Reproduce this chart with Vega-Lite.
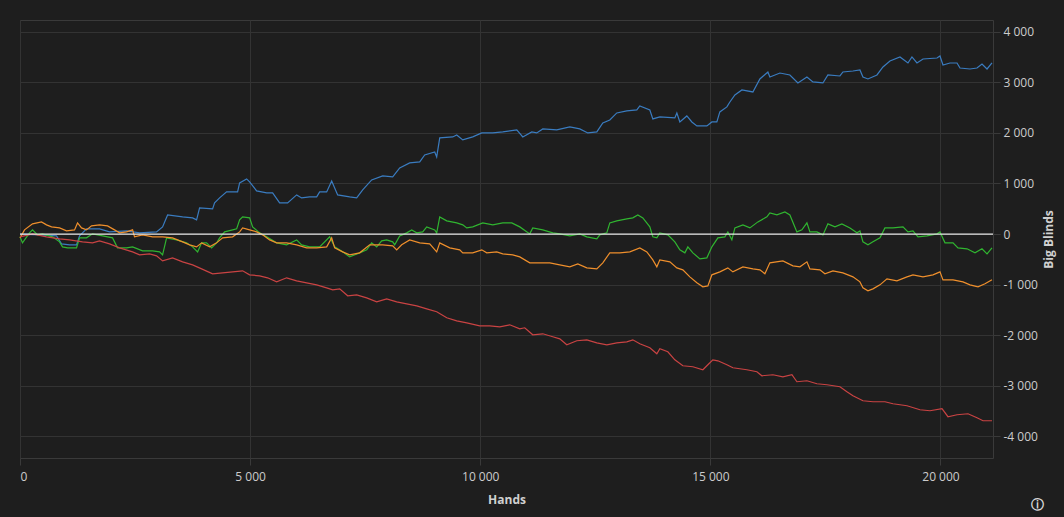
{
  "$schema": "https://vega.github.io/schema/vega-lite/v6.json",
  "width": 973,
  "height": 438,
  "autosize": {"type": "none"},
  "padding": {"left": 20, "top": 20, "right": 71, "bottom": 59},
  "background": "#1e1e1e",
  "title": {"text": "ⓘ", "orient": "bottom", "anchor": "end", "frame": "group", "offset": -6, "dx": 51, "fontSize": 13, "font": "DejaVu Sans", "fontWeight": "bold", "color": "#d8d8d8"},
  "config": {
    "locale": {"number": {"decimal": ".", "thousands": " ", "grouping": [3], "currency": ["", ""], "minus": "-"}},
    "view": {"stroke": "#3a3a3a", "strokeWidth": 1},
    "axis": {
      "gridColor": "#333333",
      "domain": false,
      "tickColor": "#3a3a3a",
      "labelColor": "#cccccc",
      "labelFont": "Open Sans",
      "labelFontSize": 12,
      "titleColor": "#d0d0d0",
      "titleFont": "Open Sans",
      "titleFontSize": 12,
      "titleFontWeight": "bold"
    }
  },
  "datasets": {
    "series": [
      {"player":"Player 1","hands":0,"bb":0},{"player":"Player 1","hands":424,"bb":-16},{"player":"Player 1","hands":793,"bb":-36},{"player":"Player 1","hands":902,"bb":-194},{"player":"Player 1","hands":1076,"bb":-213},{"player":"Player 1","hands":1228,"bb":-213},{"player":"Player 1","hands":1294,"bb":-36},{"player":"Player 1","hands":1446,"bb":103},{"player":"Player 1","hands":1728,"bb":103},{"player":"Player 1","hands":1946,"bb":43},{"player":"Player 1","hands":2315,"bb":63},{"player":"Player 1","hands":2598,"bb":24},{"player":"Player 1","hands":2967,"bb":43},{"player":"Player 1","hands":3098,"bb":142},{"player":"Player 1","hands":3207,"bb":379},{"player":"Player 1","hands":3533,"bb":340},{"player":"Player 1","hands":3750,"bb":320},{"player":"Player 1","hands":3837,"bb":281},{"player":"Player 1","hands":3902,"bb":518},{"player":"Player 1","hands":4185,"bb":498},{"player":"Player 1","hands":4228,"bb":617},{"player":"Player 1","hands":4337,"bb":715},{"player":"Player 1","hands":4489,"bb":834},{"player":"Player 1","hands":4728,"bb":834},{"player":"Player 1","hands":4772,"bb":1012},{"player":"Player 1","hands":4924,"bb":1091},{"player":"Player 1","hands":4989,"bb":1032},{"player":"Player 1","hands":5141,"bb":854},{"player":"Player 1","hands":5359,"bb":814},{"player":"Player 1","hands":5489,"bb":814},{"player":"Player 1","hands":5641,"bb":617},{"player":"Player 1","hands":5815,"bb":617},{"player":"Player 1","hands":6011,"bb":775},{"player":"Player 1","hands":6119,"bb":715},{"player":"Player 1","hands":6293,"bb":735},{"player":"Player 1","hands":6446,"bb":735},{"player":"Player 1","hands":6511,"bb":834},{"player":"Player 1","hands":6663,"bb":834},{"player":"Player 1","hands":6772,"bb":1051},{"player":"Player 1","hands":6902,"bb":775},{"player":"Player 1","hands":7163,"bb":735},{"player":"Player 1","hands":7315,"bb":715},{"player":"Player 1","hands":7446,"bb":873},{"player":"Player 1","hands":7641,"bb":1071},{"player":"Player 1","hands":7880,"bb":1150},{"player":"Player 1","hands":8098,"bb":1130},{"player":"Player 1","hands":8250,"bb":1308},{"player":"Player 1","hands":8467,"bb":1407},{"player":"Player 1","hands":8685,"bb":1427},{"player":"Player 1","hands":8793,"bb":1565},{"player":"Player 1","hands":9011,"bb":1624},{"player":"Player 1","hands":9054,"bb":1526},{"player":"Player 1","hands":9120,"bb":1901},{"player":"Player 1","hands":9402,"bb":1921},{"player":"Player 1","hands":9489,"bb":1960},{"player":"Player 1","hands":9620,"bb":1862},{"player":"Player 1","hands":9837,"bb":1921},{"player":"Player 1","hands":10033,"bb":2000},{"player":"Player 1","hands":10272,"bb":2000},{"player":"Player 1","hands":10489,"bb":2020},{"player":"Player 1","hands":10794,"bb":2059},{"player":"Player 1","hands":10924,"bb":1921},{"player":"Player 1","hands":11120,"bb":2020},{"player":"Player 1","hands":11228,"bb":2000},{"player":"Player 1","hands":11359,"bb":2079},{"player":"Player 1","hands":11663,"bb":2059},{"player":"Player 1","hands":11946,"bb":2119},{"player":"Player 1","hands":12163,"bb":2079},{"player":"Player 1","hands":12337,"bb":2000},{"player":"Player 1","hands":12533,"bb":2020},{"player":"Player 1","hands":12663,"bb":2197},{"player":"Player 1","hands":12815,"bb":2257},{"player":"Player 1","hands":12967,"bb":2395},{"player":"Player 1","hands":13185,"bb":2435},{"player":"Player 1","hands":13402,"bb":2454},{"player":"Player 1","hands":13467,"bb":2533},{"player":"Player 1","hands":13685,"bb":2454},{"player":"Player 1","hands":13750,"bb":2277},{"player":"Player 1","hands":13902,"bb":2316},{"player":"Player 1","hands":14228,"bb":2296},{"player":"Player 1","hands":14272,"bb":2395},{"player":"Player 1","hands":14337,"bb":2217},{"player":"Player 1","hands":14489,"bb":2336},{"player":"Player 1","hands":14598,"bb":2217},{"player":"Player 1","hands":14707,"bb":2138},{"player":"Player 1","hands":14924,"bb":2138},{"player":"Player 1","hands":15033,"bb":2217},{"player":"Player 1","hands":15141,"bb":2217},{"player":"Player 1","hands":15206,"bb":2415},{"player":"Player 1","hands":15359,"bb":2514},{"player":"Player 1","hands":15424,"bb":2612},{"player":"Player 1","hands":15533,"bb":2751},{"player":"Player 1","hands":15685,"bb":2850},{"player":"Player 1","hands":15924,"bb":2810},{"player":"Player 1","hands":16076,"bb":3067},{"player":"Player 1","hands":16250,"bb":3205},{"player":"Player 1","hands":16293,"bb":3106},{"player":"Player 1","hands":16511,"bb":3185},{"player":"Player 1","hands":16728,"bb":3146},{"player":"Player 1","hands":16902,"bb":2988},{"player":"Player 1","hands":17098,"bb":3106},{"player":"Player 1","hands":17228,"bb":3008},{"player":"Player 1","hands":17446,"bb":2988},{"player":"Player 1","hands":17554,"bb":3146},{"player":"Player 1","hands":17815,"bb":3126},{"player":"Player 1","hands":17880,"bb":3205},{"player":"Player 1","hands":18098,"bb":3225},{"player":"Player 1","hands":18250,"bb":3245},{"player":"Player 1","hands":18315,"bb":3106},{"player":"Player 1","hands":18424,"bb":3067},{"player":"Player 1","hands":18620,"bb":3146},{"player":"Player 1","hands":18750,"bb":3304},{"player":"Player 1","hands":18902,"bb":3422},{"player":"Player 1","hands":19120,"bb":3502},{"player":"Player 1","hands":19293,"bb":3383},{"player":"Player 1","hands":19380,"bb":3502},{"player":"Player 1","hands":19489,"bb":3383},{"player":"Player 1","hands":19620,"bb":3462},{"player":"Player 1","hands":19924,"bb":3482},{"player":"Player 1","hands":19989,"bb":3521},{"player":"Player 1","hands":20054,"bb":3343},{"player":"Player 1","hands":20206,"bb":3383},{"player":"Player 1","hands":20359,"bb":3383},{"player":"Player 1","hands":20424,"bb":3284},{"player":"Player 1","hands":20641,"bb":3264},{"player":"Player 1","hands":20793,"bb":3284},{"player":"Player 1","hands":20902,"bb":3363},{"player":"Player 1","hands":21011,"bb":3264},{"player":"Player 1","hands":21119,"bb":3383},

      {"player":"Player 2","hands":0,"bb":-55},{"player":"Player 2","hands":54,"bb":-174},{"player":"Player 2","hands":207,"bb":24},{"player":"Player 2","hands":272,"bb":83},{"player":"Player 2","hands":380,"bb":-16},{"player":"Player 2","hands":489,"bb":4},{"player":"Player 2","hands":707,"bb":-55},{"player":"Player 2","hands":859,"bb":-154},{"player":"Player 2","hands":924,"bb":-253},{"player":"Player 2","hands":1033,"bb":-273},{"player":"Player 2","hands":1228,"bb":-273},{"player":"Player 2","hands":1294,"bb":-75},{"player":"Player 2","hands":1446,"bb":-75},{"player":"Player 2","hands":1576,"bb":4},{"player":"Player 2","hands":1794,"bb":-36},{"player":"Player 2","hands":2011,"bb":-75},{"player":"Player 2","hands":2120,"bb":-273},{"player":"Player 2","hands":2315,"bb":-273},{"player":"Player 2","hands":2446,"bb":-253},{"player":"Player 2","hands":2663,"bb":-332},{"player":"Player 2","hands":2880,"bb":-332},{"player":"Player 2","hands":3033,"bb":-352},{"player":"Player 2","hands":3098,"bb":-411},{"player":"Player 2","hands":3185,"bb":-75},{"player":"Player 2","hands":3402,"bb":-115},{"player":"Player 2","hands":3620,"bb":-174},{"player":"Player 2","hands":3750,"bb":-253},{"player":"Player 2","hands":3859,"bb":-352},{"player":"Player 2","hands":3946,"bb":-174},{"player":"Player 2","hands":4054,"bb":-174},{"player":"Player 2","hands":4163,"bb":-273},{"player":"Player 2","hands":4272,"bb":-174},{"player":"Player 2","hands":4337,"bb":-75},{"player":"Player 2","hands":4446,"bb":43},{"player":"Player 2","hands":4620,"bb":83},{"player":"Player 2","hands":4707,"bb":103},{"player":"Player 2","hands":4772,"bb":281},{"player":"Player 2","hands":4837,"bb":340},{"player":"Player 2","hands":4989,"bb":320},{"player":"Player 2","hands":5054,"bb":142},{"player":"Player 2","hands":5206,"bb":24},{"player":"Player 2","hands":5359,"bb":-55},{"player":"Player 2","hands":5576,"bb":-174},{"player":"Player 2","hands":5793,"bb":-213},{"player":"Player 2","hands":6011,"bb":-115},{"player":"Player 2","hands":6119,"bb":-213},{"player":"Player 2","hands":6293,"bb":-253},{"player":"Player 2","hands":6511,"bb":-253},{"player":"Player 2","hands":6728,"bb":-55},{"player":"Player 2","hands":6837,"bb":-253},{"player":"Player 2","hands":7011,"bb":-352},{"player":"Player 2","hands":7163,"bb":-451},{"player":"Player 2","hands":7380,"bb":-371},{"player":"Player 2","hands":7533,"bb":-312},{"player":"Player 2","hands":7641,"bb":-174},{"player":"Player 2","hands":7750,"bb":-253},{"player":"Player 2","hands":7859,"bb":-134},{"player":"Player 2","hands":7967,"bb":-115},{"player":"Player 2","hands":8098,"bb":-154},{"player":"Player 2","hands":8141,"bb":-213},{"player":"Player 2","hands":8250,"bb":-36},{"player":"Player 2","hands":8402,"bb":24},{"player":"Player 2","hands":8511,"bb":83},{"player":"Player 2","hands":8620,"bb":24},{"player":"Player 2","hands":8750,"bb":43},{"player":"Player 2","hands":8837,"bb":142},{"player":"Player 2","hands":9011,"bb":83},{"player":"Player 2","hands":9054,"bb":24},{"player":"Player 2","hands":9120,"bb":340},{"player":"Player 2","hands":9272,"bb":261},{"player":"Player 2","hands":9489,"bb":221},{"player":"Player 2","hands":9620,"bb":182},{"player":"Player 2","hands":9707,"bb":122},{"player":"Player 2","hands":9837,"bb":142},{"player":"Player 2","hands":10054,"bb":221},{"player":"Player 2","hands":10272,"bb":182},{"player":"Player 2","hands":10489,"bb":221},{"player":"Player 2","hands":10685,"bb":221},{"player":"Player 2","hands":10859,"bb":142},{"player":"Player 2","hands":11076,"bb":4},{"player":"Player 2","hands":11141,"bb":122},{"player":"Player 2","hands":11359,"bb":83},{"player":"Player 2","hands":11576,"bb":24},{"player":"Player 2","hands":11728,"bb":4},{"player":"Player 2","hands":11946,"bb":-36},{"player":"Player 2","hands":12163,"bb":4},{"player":"Player 2","hands":12315,"bb":-55},{"player":"Player 2","hands":12533,"bb":-95},{"player":"Player 2","hands":12598,"bb":-16},{"player":"Player 2","hands":12750,"bb":24},{"player":"Player 2","hands":12815,"bb":221},{"player":"Player 2","hands":12967,"bb":261},{"player":"Player 2","hands":13185,"bb":300},{"player":"Player 2","hands":13315,"bb":320},{"player":"Player 2","hands":13424,"bb":379},{"player":"Player 2","hands":13533,"bb":320},{"player":"Player 2","hands":13685,"bb":142},{"player":"Player 2","hands":13750,"bb":-55},{"player":"Player 2","hands":13837,"bb":-75},{"player":"Player 2","hands":13902,"bb":24},{"player":"Player 2","hands":14076,"bb":-16},{"player":"Player 2","hands":14228,"bb":-154},{"player":"Player 2","hands":14337,"bb":-312},{"player":"Player 2","hands":14446,"bb":-371},{"player":"Player 2","hands":14511,"bb":-253},{"player":"Player 2","hands":14620,"bb":-371},{"player":"Player 2","hands":14772,"bb":-490},{"player":"Player 2","hands":14924,"bb":-470},{"player":"Player 2","hands":15033,"bb":-253},{"player":"Player 2","hands":15163,"bb":-75},{"player":"Player 2","hands":15315,"bb":-55},{"player":"Player 2","hands":15380,"bb":43},{"player":"Player 2","hands":15467,"bb":-115},{"player":"Player 2","hands":15533,"bb":122},{"player":"Player 2","hands":15707,"bb":182},{"player":"Player 2","hands":15859,"bb":122},{"player":"Player 2","hands":16033,"bb":241},{"player":"Player 2","hands":16228,"bb":340},{"player":"Player 2","hands":16293,"bb":419},{"player":"Player 2","hands":16446,"bb":379},{"player":"Player 2","hands":16620,"bb":438},{"player":"Player 2","hands":16728,"bb":379},{"player":"Player 2","hands":16880,"bb":43},{"player":"Player 2","hands":16989,"bb":83},{"player":"Player 2","hands":17098,"bb":221},{"player":"Player 2","hands":17163,"bb":43},{"player":"Player 2","hands":17315,"bb":43},{"player":"Player 2","hands":17446,"bb":-16},{"player":"Player 2","hands":17554,"bb":202},{"player":"Player 2","hands":17707,"bb":142},{"player":"Player 2","hands":17858,"bb":202},{"player":"Player 2","hands":18033,"bb":122},{"player":"Player 2","hands":18185,"bb":24},{"player":"Player 2","hands":18250,"bb":63},{"player":"Player 2","hands":18315,"bb":-154},{"player":"Player 2","hands":18424,"bb":-213},{"player":"Player 2","hands":18533,"bb":-154},{"player":"Player 2","hands":18685,"bb":-75},{"player":"Player 2","hands":18793,"bb":122},{"player":"Player 2","hands":18967,"bb":122},{"player":"Player 2","hands":19185,"bb":142},{"player":"Player 2","hands":19293,"bb":43},{"player":"Player 2","hands":19402,"bb":63},{"player":"Player 2","hands":19511,"bb":-55},{"player":"Player 2","hands":19707,"bb":-36},{"player":"Player 2","hands":19924,"bb":4},{"player":"Player 2","hands":19989,"bb":43},{"player":"Player 2","hands":20098,"bb":-174},{"player":"Player 2","hands":20272,"bb":-174},{"player":"Player 2","hands":20380,"bb":-273},{"player":"Player 2","hands":20576,"bb":-292},{"player":"Player 2","hands":20750,"bb":-371},{"player":"Player 2","hands":20902,"bb":-292},{"player":"Player 2","hands":21011,"bb":-391},{"player":"Player 2","hands":21119,"bb":-273},

      {"player":"Player 3","hands":0,"bb":-75},{"player":"Player 3","hands":98,"bb":83},{"player":"Player 3","hands":272,"bb":202},{"player":"Player 3","hands":467,"bb":241},{"player":"Player 3","hands":576,"bb":182},{"player":"Player 3","hands":685,"bb":142},{"player":"Player 3","hands":859,"bb":122},{"player":"Player 3","hands":1011,"bb":63},{"player":"Player 3","hands":1185,"bb":83},{"player":"Player 3","hands":1250,"bb":221},{"player":"Player 3","hands":1337,"bb":122},{"player":"Player 3","hands":1446,"bb":83},{"player":"Player 3","hands":1554,"bb":162},{"player":"Player 3","hands":1728,"bb":182},{"player":"Player 3","hands":1902,"bb":162},{"player":"Player 3","hands":2054,"bb":83},{"player":"Player 3","hands":2163,"bb":24},{"player":"Player 3","hands":2315,"bb":43},{"player":"Player 3","hands":2446,"bb":83},{"player":"Player 3","hands":2489,"bb":-55},{"player":"Player 3","hands":2663,"bb":-16},{"player":"Player 3","hands":2880,"bb":-55},{"player":"Player 3","hands":3098,"bb":-55},{"player":"Player 3","hands":3315,"bb":-75},{"player":"Player 3","hands":3533,"bb":-154},{"player":"Player 3","hands":3685,"bb":-213},{"player":"Player 3","hands":3837,"bb":-253},{"player":"Player 3","hands":3946,"bb":-174},{"player":"Player 3","hands":4120,"bb":-253},{"player":"Player 3","hands":4272,"bb":-174},{"player":"Player 3","hands":4402,"bb":-75},{"player":"Player 3","hands":4620,"bb":-55},{"player":"Player 3","hands":4772,"bb":43},{"player":"Player 3","hands":4837,"bb":122},{"player":"Player 3","hands":4989,"bb":83},{"player":"Player 3","hands":5141,"bb":43},{"player":"Player 3","hands":5272,"bb":-16},{"player":"Player 3","hands":5424,"bb":-115},{"player":"Player 3","hands":5576,"bb":-174},{"player":"Player 3","hands":5793,"bb":-174},{"player":"Player 3","hands":6011,"bb":-213},{"player":"Player 3","hands":6228,"bb":-273},{"player":"Player 3","hands":6446,"bb":-273},{"player":"Player 3","hands":6663,"bb":-253},{"player":"Player 3","hands":6772,"bb":-75},{"player":"Player 3","hands":6837,"bb":-273},{"player":"Player 3","hands":7011,"bb":-352},{"player":"Player 3","hands":7163,"bb":-411},{"player":"Player 3","hands":7380,"bb":-371},{"player":"Player 3","hands":7598,"bb":-213},{"player":"Player 3","hands":7880,"bb":-213},{"player":"Player 3","hands":8098,"bb":-233},{"player":"Player 3","hands":8185,"bb":-312},{"player":"Player 3","hands":8293,"bb":-213},{"player":"Player 3","hands":8467,"bb":-115},{"player":"Player 3","hands":8685,"bb":-174},{"player":"Player 3","hands":8902,"bb":-194},{"player":"Player 3","hands":9054,"bb":-352},{"player":"Player 3","hands":9120,"bb":-174},{"player":"Player 3","hands":9337,"bb":-273},{"player":"Player 3","hands":9554,"bb":-312},{"player":"Player 3","hands":9620,"bb":-371},{"player":"Player 3","hands":9837,"bb":-371},{"player":"Player 3","hands":10033,"bb":-312},{"player":"Player 3","hands":10141,"bb":-371},{"player":"Player 3","hands":10359,"bb":-352},{"player":"Player 3","hands":10489,"bb":-391},{"player":"Player 3","hands":10707,"bb":-411},{"player":"Player 3","hands":10859,"bb":-451},{"player":"Player 3","hands":11076,"bb":-569},{"player":"Player 3","hands":11294,"bb":-569},{"player":"Player 3","hands":11511,"bb":-569},{"player":"Player 3","hands":11728,"bb":-609},{"player":"Player 3","hands":11946,"bb":-648},{"player":"Player 3","hands":12120,"bb":-589},{"player":"Player 3","hands":12315,"bb":-668},{"player":"Player 3","hands":12533,"bb":-688},{"player":"Player 3","hands":12663,"bb":-569},{"player":"Player 3","hands":12815,"bb":-371},{"player":"Player 3","hands":13033,"bb":-371},{"player":"Player 3","hands":13250,"bb":-352},{"player":"Player 3","hands":13467,"bb":-273},{"player":"Player 3","hands":13620,"bb":-352},{"player":"Player 3","hands":13750,"bb":-510},{"player":"Player 3","hands":13837,"bb":-648},{"player":"Player 3","hands":13902,"bb":-510},{"player":"Player 3","hands":14120,"bb":-549},{"player":"Player 3","hands":14272,"bb":-668},{"player":"Player 3","hands":14402,"bb":-707},{"player":"Player 3","hands":14554,"bb":-846},{"player":"Player 3","hands":14707,"bb":-964},{"player":"Player 3","hands":14837,"bb":-1043},{"player":"Player 3","hands":14946,"bb":-1024},{"player":"Player 3","hands":15033,"bb":-806},{"player":"Player 3","hands":15206,"bb":-747},{"player":"Player 3","hands":15380,"bb":-668},{"player":"Player 3","hands":15489,"bb":-747},{"player":"Player 3","hands":15707,"bb":-648},{"player":"Player 3","hands":15924,"bb":-688},{"player":"Player 3","hands":16076,"bb":-707},{"player":"Player 3","hands":16185,"bb":-786},{"player":"Player 3","hands":16293,"bb":-569},{"player":"Player 3","hands":16576,"bb":-530},{"player":"Player 3","hands":16794,"bb":-628},{"player":"Player 3","hands":16946,"bb":-648},{"player":"Player 3","hands":17098,"bb":-549},{"player":"Player 3","hands":17163,"bb":-688},{"player":"Player 3","hands":17380,"bb":-707},{"player":"Player 3","hands":17489,"bb":-786},{"player":"Player 3","hands":17663,"bb":-727},{"player":"Player 3","hands":17880,"bb":-767},{"player":"Player 3","hands":18098,"bb":-846},{"player":"Player 3","hands":18250,"bb":-945},{"player":"Player 3","hands":18315,"bb":-1063},{"player":"Player 3","hands":18424,"bb":-1122},{"player":"Player 3","hands":18533,"bb":-1083},{"player":"Player 3","hands":18685,"bb":-1004},{"player":"Player 3","hands":18837,"bb":-885},{"player":"Player 3","hands":19054,"bb":-925},{"player":"Player 3","hands":19272,"bb":-846},{"player":"Player 3","hands":19402,"bb":-806},{"player":"Player 3","hands":19620,"bb":-846},{"player":"Player 3","hands":19837,"bb":-806},{"player":"Player 3","hands":19989,"bb":-747},{"player":"Player 3","hands":20054,"bb":-905},{"player":"Player 3","hands":20272,"bb":-905},{"player":"Player 3","hands":20489,"bb":-945},{"player":"Player 3","hands":20641,"bb":-1004},{"player":"Player 3","hands":20815,"bb":-1043},{"player":"Player 3","hands":20967,"bb":-984},{"player":"Player 3","hands":21119,"bb":-905},

      {"player":"Player 4","hands":0,"bb":-55},{"player":"Player 4","hands":272,"bb":4},{"player":"Player 4","hands":576,"bb":-55},{"player":"Player 4","hands":859,"bb":-95},{"player":"Player 4","hands":1076,"bb":-115},{"player":"Player 4","hands":1359,"bb":-154},{"player":"Player 4","hands":1576,"bb":-174},{"player":"Player 4","hands":1728,"bb":-134},{"player":"Player 4","hands":1946,"bb":-194},{"player":"Player 4","hands":2163,"bb":-273},{"player":"Player 4","hands":2446,"bb":-352},{"player":"Player 4","hands":2598,"bb":-411},{"player":"Player 4","hands":2815,"bb":-391},{"player":"Player 4","hands":2967,"bb":-431},{"player":"Player 4","hands":3098,"bb":-530},{"player":"Player 4","hands":3315,"bb":-470},{"player":"Player 4","hands":3533,"bb":-549},{"player":"Player 4","hands":3750,"bb":-609},{"player":"Player 4","hands":3946,"bb":-688},{"player":"Player 4","hands":4185,"bb":-786},{"player":"Player 4","hands":4402,"bb":-767},{"player":"Player 4","hands":4620,"bb":-747},{"player":"Player 4","hands":4837,"bb":-727},{"player":"Player 4","hands":4989,"bb":-806},{"player":"Player 4","hands":5206,"bb":-826},{"player":"Player 4","hands":5380,"bb":-865},{"player":"Player 4","hands":5576,"bb":-945},{"player":"Player 4","hands":5793,"bb":-865},{"player":"Player 4","hands":6011,"bb":-925},{"player":"Player 4","hands":6228,"bb":-964},{"player":"Player 4","hands":6446,"bb":-1004},{"player":"Player 4","hands":6663,"bb":-1063},{"player":"Player 4","hands":6794,"bb":-1103},{"player":"Player 4","hands":6946,"bb":-1083},{"player":"Player 4","hands":7120,"bb":-1221},{"player":"Player 4","hands":7315,"bb":-1201},{"player":"Player 4","hands":7533,"bb":-1261},{"player":"Player 4","hands":7750,"bb":-1340},{"player":"Player 4","hands":7967,"bb":-1280},{"player":"Player 4","hands":8185,"bb":-1340},{"player":"Player 4","hands":8402,"bb":-1379},{"player":"Player 4","hands":8620,"bb":-1419},{"player":"Player 4","hands":8837,"bb":-1478},{"player":"Player 4","hands":9054,"bb":-1537},{"player":"Player 4","hands":9272,"bb":-1656},{"player":"Player 4","hands":9489,"bb":-1715},{"player":"Player 4","hands":9707,"bb":-1755},{"player":"Player 4","hands":9989,"bb":-1814},{"player":"Player 4","hands":10206,"bb":-1814},{"player":"Player 4","hands":10424,"bb":-1834},{"player":"Player 4","hands":10641,"bb":-1794},{"player":"Player 4","hands":10859,"bb":-1873},{"player":"Player 4","hands":10967,"bb":-1853},{"player":"Player 4","hands":11141,"bb":-1992},{"player":"Player 4","hands":11359,"bb":-1972},{"player":"Player 4","hands":11576,"bb":-2031},{"player":"Player 4","hands":11728,"bb":-2071},{"player":"Player 4","hands":11880,"bb":-2189},{"player":"Player 4","hands":12098,"bb":-2110},{"player":"Player 4","hands":12315,"bb":-2091},{"player":"Player 4","hands":12533,"bb":-2150},{"player":"Player 4","hands":12750,"bb":-2189},{"player":"Player 4","hands":12967,"bb":-2150},{"player":"Player 4","hands":13185,"bb":-2130},{"player":"Player 4","hands":13315,"bb":-2091},{"player":"Player 4","hands":13467,"bb":-2170},{"player":"Player 4","hands":13685,"bb":-2249},{"player":"Player 4","hands":13837,"bb":-2367},{"player":"Player 4","hands":13902,"bb":-2268},{"player":"Player 4","hands":14076,"bb":-2328},{"player":"Player 4","hands":14228,"bb":-2486},{"player":"Player 4","hands":14402,"bb":-2604},{"player":"Player 4","hands":14620,"bb":-2624},{"player":"Player 4","hands":14837,"bb":-2683},{"player":"Player 4","hands":14946,"bb":-2585},{"player":"Player 4","hands":15054,"bb":-2486},{"player":"Player 4","hands":15163,"bb":-2506},{"player":"Player 4","hands":15359,"bb":-2585},{"player":"Player 4","hands":15489,"bb":-2644},{"player":"Player 4","hands":15793,"bb":-2683},{"player":"Player 4","hands":16011,"bb":-2723},{"player":"Player 4","hands":16119,"bb":-2802},{"player":"Player 4","hands":16359,"bb":-2782},{"player":"Player 4","hands":16576,"bb":-2822},{"player":"Player 4","hands":16772,"bb":-2782},{"player":"Player 4","hands":16880,"bb":-2920},{"player":"Player 4","hands":17098,"bb":-2901},{"player":"Player 4","hands":17315,"bb":-2960},{"player":"Player 4","hands":17533,"bb":-2980},{"player":"Player 4","hands":17815,"bb":-3019},{"player":"Player 4","hands":17967,"bb":-3118},{"player":"Player 4","hands":18098,"bb":-3197},{"player":"Player 4","hands":18315,"bb":-3296},{"player":"Player 4","hands":18533,"bb":-3316},{"player":"Player 4","hands":18793,"bb":-3316},{"player":"Player 4","hands":18967,"bb":-3355},{"player":"Player 4","hands":19272,"bb":-3395},{"player":"Player 4","hands":19554,"bb":-3474},{"player":"Player 4","hands":19772,"bb":-3494},{"player":"Player 4","hands":20033,"bb":-3454},{"player":"Player 4","hands":20163,"bb":-3612},{"player":"Player 4","hands":20359,"bb":-3573},{"player":"Player 4","hands":20598,"bb":-3553},{"player":"Player 4","hands":20793,"bb":-3632},{"player":"Player 4","hands":20924,"bb":-3691},{"player":"Player 4","hands":21119,"bb":-3691}
    ],
    "zero": [{"bb": 0}]
  },
  "layer": [
    {
      "data": {"name": "series"},
      "mark": {"type": "line", "strokeWidth": 1.2, "interpolate": "linear"},
      "encoding": {
        "x": {
          "field": "hands", "type": "quantitative",
          "scale": {"domain": [0, 21141], "nice": false, "zero": false},
          "axis": {"title": "Hands", "values": [0, 5000, 10000, 15000, 20000], "format": ",d", "tickSize": 7, "labelPadding": 6, "titlePadding": 12, "grid": true}
        },
        "y": {
          "field": "bb", "type": "quantitative",
          "scale": {"domain": [-4428, 4233], "nice": false, "zero": false},
          "axis": {"orient": "right", "title": "Big Blinds", "titleAngle": -90, "values": [-4000, -3000, -2000, -1000, 0, 1000, 2000, 3000, 4000], "format": ",d", "tickSize": 7, "labelPadding": 3, "titlePadding": 18, "grid": true}
        },
        "color": {
          "field": "player", "type": "nominal",
          "scale": {"domain": ["Player 1", "Player 2", "Player 3", "Player 4"], "range": ["#3a7cc0", "#30b530", "#ef8f2c", "#c94343"]},
          "legend": null
        }
      }
    },
    {
      "data": {"name": "zero"},
      "mark": {"type": "rule", "color": "#e8e8e8", "strokeWidth": 1.3},
      "encoding": {"y": {"field": "bb", "type": "quantitative"}}
    }
  ]
}
